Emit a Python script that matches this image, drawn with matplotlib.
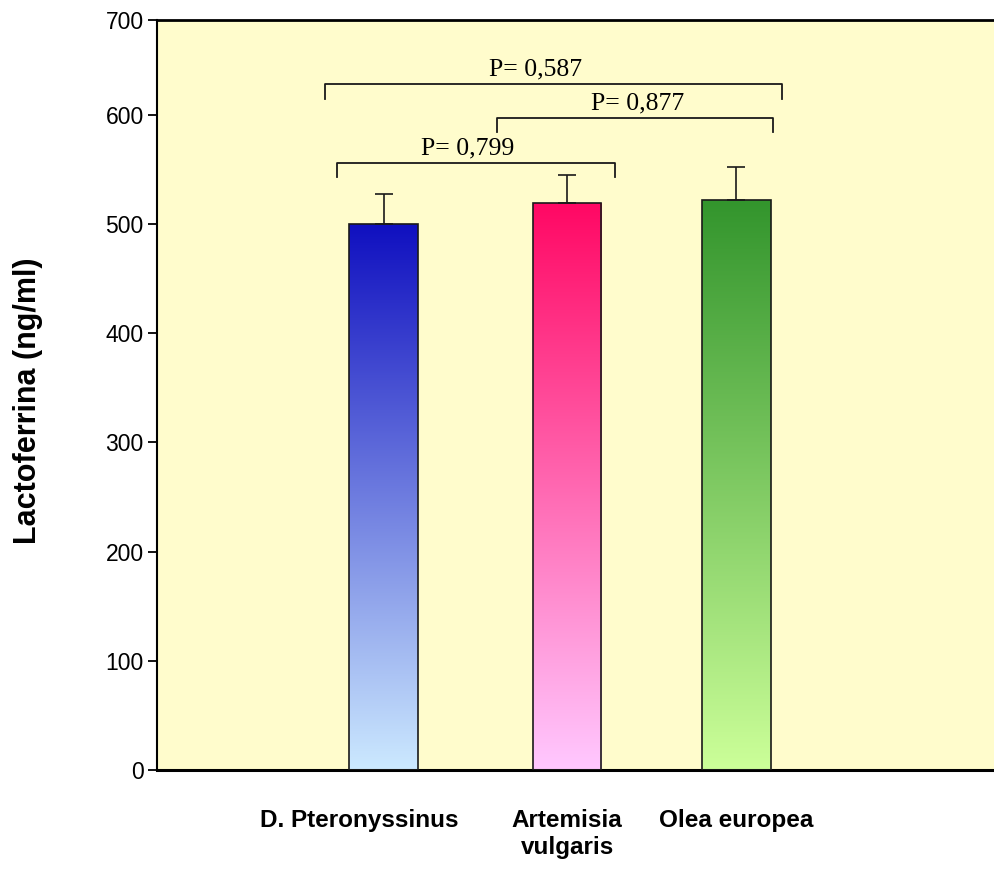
import numpy as np
import matplotlib
matplotlib.use('Agg')
import matplotlib.pyplot as plt
import matplotlib.transforms as mtransforms
from matplotlib.colors import LinearSegmentedColormap

# Данные
categories = ['D. Pteronyssinus', 'Artemisia\nvulgaris', 'Olea europea']
values = [500, 519, 522]
errors = [27.5, 25.6, 30]
top_colors = ['#1010c0', '#ff0864', '#33952d']
bottom_colors = ['#cce9ff', '#ffc8ff', '#ccff99']

# Сравнения и p-значения
p_labels = ['P= 0,799', 'P= 0,877', 'P= 0,587']

x = np.array([0, 1.04, 2.0])
width = 0.39

fig = plt.figure(figsize=(9.94, 8.69), dpi=100)
ax = fig.add_axes([157 / 994, 99 / 869, 1 - 157 / 994, 750 / 869])
ax.set_facecolor('#fffccc')

ymax = 687
ax.set_ylim(0, ymax)
ax.set_xlim(-1.287, 3.463)

bars = ax.bar(x, values, width=width, color='none', edgecolor='#1a1a1a',
              linewidth=1.2, zorder=3)

# Градиентная заливка столбцов
grad = np.linspace(0, 1, 256).reshape(-1, 1)
for b, c_top, c_bot in zip(bars, top_colors, bottom_colors):
    cmap = LinearSegmentedColormap.from_list('g', [c_bot, c_top])
    x0, y0 = b.get_x(), b.get_y()
    im = ax.imshow(grad, cmap=cmap, origin='lower', aspect='auto',
                   extent=[x0, x0 + b.get_width(), y0, y0 + b.get_height()],
                   zorder=2)
    im.set_clip_path(b)

# Планки погрешностей (только вверх)
ax.errorbar(x, values, yerr=[np.zeros(3), errors], fmt='none',
            ecolor='#1a1a1a', elinewidth=1.2, capsize=6.5, capthick=1.2,
            zorder=4)

# Скобки с p-значениями
bracket_y = [556, 597, 628]
bracket_x = [(-0.264, 1.315), (0.645, 2.207), (-0.332, 2.259)]
leg = 13
for (xa, xb), yb in zip(bracket_x, bracket_y):
    ax.plot([xa, xa, xb, xb], [yb - leg, yb, yb, yb - leg], color='#1a1a1a',
            linewidth=1.3, zorder=4)
text_x = [0.474, 1.44, 0.861]
for tx, yb, lab in zip(text_x, bracket_y, p_labels):
    ax.text(tx, yb + 3.5, lab, ha='center', va='bottom',
            family='Liberation Serif', fontsize=18.5, zorder=5)

# Оси
yt = [0, 100, 200, 300, 400, 500, 600, ymax]
ax.set_yticks(yt)
ax.set_yticklabels(['0', '100', '200', '300', '400', '500', '600', '700'],
                   family='Liberation Sans', fontsize=16.5)
ax.tick_params(axis='y', length=6.5, width=1.3, pad=3)

ax.set_xticks(x)
ax.set_xticklabels(categories, family='Liberation Sans', fontsize=17.5,
                   fontweight='bold', linespacing=1.25)
ax.tick_params(axis='x', length=0, pad=28)
shift = mtransforms.ScaledTranslation(-0.245, 0, fig.dpi_scale_trans)
lbl0 = ax.get_xticklabels()[0]
lbl0.set_transform(lbl0.get_transform() + shift)

ax.set_ylabel('Lactoferrina (ng/ml)', family='Liberation Sans', fontsize=22,
              fontweight='bold')
ax.yaxis.set_label_coords(-0.136, 0.492)

ax.spines['right'].set_visible(False)
ax.spines['left'].set_linewidth(1.5)
ax.spines['bottom'].set_linewidth(2.2)
ax.spines['top'].set_linewidth(2.0)

fig.savefig('out.png', dpi=100)
